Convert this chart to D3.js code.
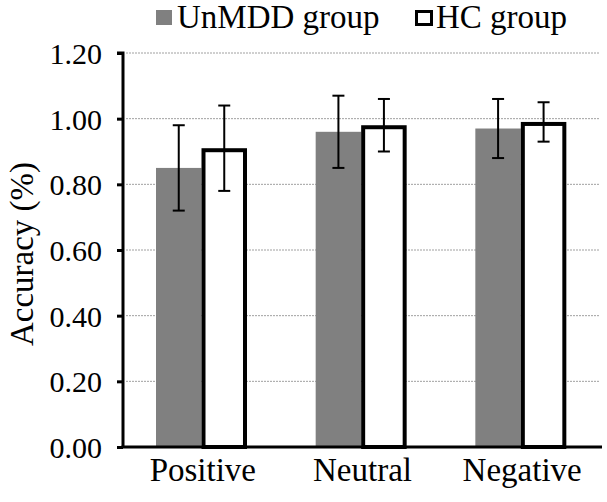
<!DOCTYPE html>
<html><head><meta charset="utf-8">
<script src="https://cdn.jsdelivr.net/npm/d3@7"></script>
</head><body style="margin:0;font-family:'Liberation Serif'">
<svg width="607" height="502" id="c" font-family="Liberation Serif"></svg>
<script>
const categories = ["Positive", "Neutral", "Negative"];
const groups = ["UnMDD group", "HC group"];
const unmddMean = [0.85, 0.96, 0.97];
const unmddErr = [0.13, 0.11, 0.09];
const hcMean = [0.91, 0.98, 0.99];
const hcErr = [0.13, 0.08, 0.06];
const yTicks = [0, 0.2, 0.4, 0.6, 0.8, 1.0, 1.2];

const svg = d3.select("#c");
const mLeft = 123, mRight = 602, mTop = 53, mBottom = 447;
const y = d3.scaleLinear().domain([0, 1.2]).range([mBottom, mTop]);
const x0 = d3.scaleBand().domain(categories).range([mLeft, mRight]).paddingInner(0).paddingOuter(0);
const x1 = d3.scaleBand().domain(groups).range([33, 33 + 91]);

function serif(sel, size) {
  sel.attr("font-family", "Liberation Serif")
     .style("font-family", d => '"Liberation Serif"')
     .attr("font-size", size).attr("fill", "#000");
  return sel;
}

// gridlines
svg.append("g").selectAll("line").data(yTicks.filter(d => d > 0)).join("line")
  .attr("x1", mLeft + 3).attr("x2", 600)
  .attr("y1", d => y(d)).attr("y2", d => y(d))
  .attr("stroke", "#a0a0a0").attr("stroke-width", 1).attr("stroke-dasharray", "2,1");

const rows = categories.map((c, i) => [
  {cat: c, g: groups[0], v: unmddMean[i], e: unmddErr[i]},
  {cat: c, g: groups[1], v: hcMean[i], e: hcErr[i]}
]).flat();

// bars
const SW = 4;
svg.append("g").selectAll("rect").data(rows).join("rect")
  .attr("x", d => x0(d.cat) + x1(d.g) + (d.g === groups[1] ? SW / 2 : 0))
  .attr("width", d => d.g === groups[1] ? x1.bandwidth() - SW : x1.bandwidth())
  .attr("y", d => d.g === groups[1] ? y(d.v) + SW / 2 : y(d.v))
  .attr("height", d => d.g === groups[1] ? y(0) - y(d.v) - SW / 2 : y(0) - y(d.v))
  .attr("fill", d => d.g === groups[0] ? "#808080" : "#fff")
  .attr("stroke", d => d.g === groups[0] ? "none" : "#000")
  .attr("stroke-width", SW);

// error bars
const eb = svg.append("g").attr("stroke", "#000").attr("stroke-width", 2);
rows.forEach(d => {
  const cx = x0(d.cat) + x1(d.g) + x1.bandwidth() / 2;
  eb.append("line").attr("x1", cx).attr("x2", cx).attr("y1", y(d.v + d.e)).attr("y2", y(d.v - d.e));
  [d.v + d.e, d.v - d.e].forEach(v => eb.append("line").attr("x1", cx - 6).attr("x2", cx + 6).attr("y1", y(v)).attr("y2", y(v)));
});

// y axis
const ya = svg.append("g").attr("transform", `translate(${mLeft},0)`)
  .call(d3.axisLeft(y).tickValues(yTicks).tickFormat(d3.format(".2f")).tickSize(6).tickPadding(15));
ya.attr("font-family", "Liberation Serif").attr("font-size", 30);
ya.select(".domain").attr("stroke", "#000").attr("stroke-width", 3).attr("d", `M-6,${mTop}H0V${mBottom}`);
ya.selectAll(".tick line").attr("stroke", "#000").attr("stroke-width", 3);
serif(ya.selectAll(".tick text"), 30).attr("dy", "0.35em");

// x axis
const xa = svg.append("g").attr("transform", `translate(0,${mBottom})`)
  .call(d3.axisBottom(x0).tickSize(0).tickPadding(11));
xa.attr("font-family", "Liberation Serif").attr("font-size", 33);
xa.select(".domain").attr("stroke", "#000").attr("stroke-width", 3).attr("d", `M${mLeft - 1.5},0H${mRight}`);
serif(xa.selectAll(".tick text"), 33).attr("dy", "0.71em");

// y title
serif(svg.append("text").datum("Accuracy (%)"), 33)
  .attr("transform", `translate(33,254) rotate(-90)`)
  .attr("text-anchor", "middle").text(d => d);

// legend
const lg = svg.append("g");
lg.append("rect").attr("x", 156).attr("y", 10).attr("width", 16).attr("height", 15).attr("fill", "#808080");
serif(lg.append("text").datum(groups[0]), 33).attr("x", 177).attr("y", 28).text(d => d);
lg.append("rect").attr("x", 416.5).attr("y", 11.5).attr("width", 15).attr("height", 13).attr("fill", "#fff").attr("stroke", "#000").attr("stroke-width", 3);
serif(lg.append("text").datum(groups[1]), 33).attr("x", 436).attr("y", 28).text(d => d);
</script></body></html>
